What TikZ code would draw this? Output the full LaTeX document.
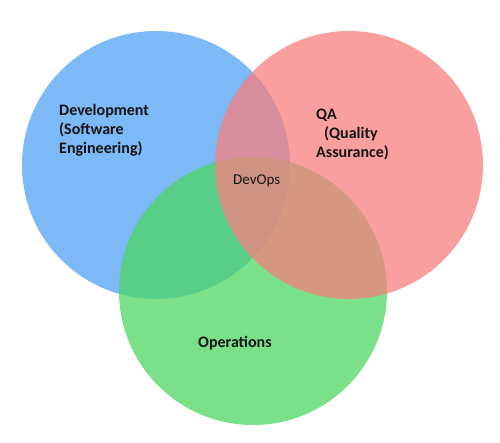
\documentclass[tikz,border=0pt]{standalone}
\usepackage{fontspec}
\newfontfamily\calfont{Carlito}
\definecolor{cblue}{RGB}{124,185,246}
\definecolor{cgreen}{RGB}{78,214,99}
\definecolor{cred}{RGB}{247,128,128}
\definecolor{ctext}{RGB}{20,20,20}
\begin{document}
\begin{tikzpicture}[x=1pt,y=-1pt,
  lbl/.style={inner sep=0pt, anchor=base west, text=ctext, font=\calfont\bfseries\fontsize{16}{19}\selectfont},
  smalllbl/.style={inner sep=0pt, anchor=base west, text=ctext, font=\calfont\fontsize{15}{18}\selectfont}]
\useasboundingbox (0,0) rectangle (500,443);
\fill[white] (0,0) rectangle (500,443);
\fill[cblue] (156,165) circle [radius=134pt];
\fill[cgreen, fill opacity=0.75] (253,291) circle [radius=134pt];
\fill[cred, fill opacity=0.75] (349,165) circle [radius=134pt];
\node[lbl] (dev1) at (59,116) {Development};
\node[lbl] (dev2) at (59,135) {(Software};
\node[lbl] (dev3) at (59,154) {Engineering)};
\node[lbl] (qa1) at (316,120) {QA};
\node[lbl] (qa2) at (324,139) {(Quality};
\node[lbl] (qa3) at (316,158) {Assurance)};
\node[smalllbl] (devops) at (233,185) {DevOps};
\node[lbl] (ops) at (198,347) {Operations};
\end{tikzpicture}
\end{document}
